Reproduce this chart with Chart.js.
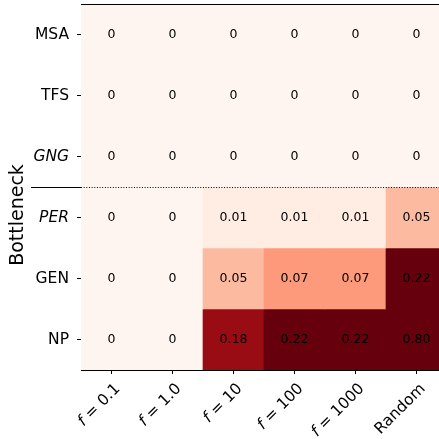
<!DOCTYPE html>
<html>
<head>
<meta charset="utf-8">
<script src="https://cdn.jsdelivr.net/npm/chart.js@4/dist/chart.umd.min.js"></script>
<style>
html,body{margin:0;padding:0;overflow:hidden;background:#fff;}
#wrap{width:447px;height:439px;}
</style>
</head>
<body>
<div id="wrap"><canvas id="c" width="447" height="439"></canvas></div>
<script>
// ---- data ----
const rowLabels = ['MSA', 'TFS', 'GNG', 'PER', 'GEN', 'NP'];
const italicRows = ['GNG', 'PER'];
const colLabels = ['f = 0.1', 'f = 1.0', 'f = 10', 'f = 100', 'f = 1000', 'Random'];
const valMSA = [0, 0, 0, 0, 0, 0];
const valTFS = [0, 0, 0, 0, 0, 0];
const valGNG = [0, 0, 0, 0, 0, 0];
const valPER = [0, 0, 0.01, 0.01, 0.01, 0.05];
const valGEN = [0, 0, 0.05, 0.07, 0.07, 0.22];
const valNP  = [0, 0, 0.18, 0.22, 0.22, 0.80];
const values = [valMSA, valTFS, valGNG, valPER, valGEN, valNP];
const vmax = 0.2;
const separatorAfterRow = 3;
const yTitle = 'Bottleneck';

// ---- Reds colormap ----
const redsStops = ['#fff5f0','#fee0d2','#fcbba1','#fc9272','#fb6a4a','#ef3b2c','#cb181d','#a50f15','#67000d'];
function hex2rgb(h){return [parseInt(h.substr(1,2),16),parseInt(h.substr(3,2),16),parseInt(h.substr(5,2),16)];}
function reds(t){
  t = Math.max(0, Math.min(1, t));
  const n = redsStops.length - 1;
  const p = t * n;
  const i = Math.min(Math.floor(p), n - 1);
  const f = p - i;
  const a = hex2rgb(redsStops[i]), b = hex2rgb(redsStops[i+1]);
  const c = a.map((v,k)=>Math.round(v + (b[k]-v)*f));
  return 'rgb(' + c.join(',') + ')';
}
const FONT = '"DejaVu Sans", sans-serif';

const datasets = values.map((rowVals, r) => ({
  label: rowLabels[r],
  data: rowVals.map(() => [r, r + 1]),
  backgroundColor: rowVals.map(v => reds(v / vmax)),
  borderWidth: 0,
  grouped: false,
  barPercentage: 1,
  categoryPercentage: 1
}));

const decor = {
  id: 'decor',
  afterDatasetsDraw(chart) {
    const ctx = chart.ctx;
    ctx.save();
    ctx.fillStyle = '#000';
    ctx.font = '12.5px ' + FONT;
    ctx.textAlign = 'center';
    ctx.textBaseline = 'middle';
    values.forEach((rowVals, r) => {
      const meta = chart.getDatasetMeta(r);
      meta.data.forEach((el, c) => {
        const p = el.getProps(['x', 'y', 'base'], true);
        const v = rowVals[c];
        ctx.fillText(v === 0 ? '0' : v.toFixed(2), p.x, (p.y + p.base) / 2 + 0.5);
      });
    });
    ctx.restore();
  },
  afterDraw(chart) {
    const ctx = chart.ctx;
    const a = chart.chartArea;
    const ys = chart.scales.y, xs = chart.scales.x;
    ctx.save();
    // top spine
    ctx.strokeStyle = '#000';
    ctx.lineWidth = 1;
    ctx.beginPath();
    ctx.moveTo(a.left, a.top + 0.5);
    ctx.lineTo(a.right, a.top + 0.5);
    ctx.stroke();
    // separator
    const sy = Math.round(ys.getPixelForValue(separatorAfterRow)) + 0.5;
    ctx.beginPath();
    ctx.moveTo(31, sy);
    ctx.lineTo(a.left, sy);
    ctx.stroke();
    ctx.setLineDash([1, 1.65]);
    ctx.beginPath();
    ctx.moveTo(a.left, sy);
    ctx.lineTo(a.right, sy);
    ctx.stroke();
    ctx.setLineDash([]);
    // y title
    ctx.fillStyle = '#000';
    ctx.font = '19px ' + FONT;
    ctx.textAlign = 'center';
    ctx.textBaseline = 'middle';
    ctx.translate(18.5, 215);
    ctx.rotate(-Math.PI / 2);
    ctx.fillText(yTitle, 0, 0);
    ctx.restore();
    // x labels
    ctx.save();
    ctx.fillStyle = '#000';
    ctx.textBaseline = 'top';
    colLabels.forEach((lab, i) => {
      const x = xs.getPixelForTick(i);
      ctx.save();
      ctx.translate(x + 1, a.bottom + 11);
      ctx.rotate(-Math.PI / 4);
      ctx.textAlign = 'left';
      if (lab.startsWith('f ')) {
        const rest = lab.slice(1);
        ctx.font = 'italic 15.5px ' + FONT;
        const wf = ctx.measureText('f').width;
        ctx.font = '15.5px ' + FONT;
        const wr = ctx.measureText(rest).width;
        const start = -(wf + wr);
        ctx.font = 'italic 15.5px ' + FONT;
        ctx.fillText('f', start, 0);
        ctx.font = '15.5px ' + FONT;
        ctx.fillText(rest, start + wf, 0);
      } else {
        ctx.font = '15.5px ' + FONT;
        const w = ctx.measureText(lab).width;
        ctx.fillText(lab, -w, 0);
      }
      ctx.restore();
    });
    ctx.restore();
  }
};

new Chart(document.getElementById('c'), {
  type: 'bar',
  data: { labels: colLabels, datasets },
  options: {
    responsive: false,
    animation: false,
    layout: { padding: { top: 4, right: 0, left: 0, bottom: 0 } },
    plugins: { legend: { display: false }, tooltip: { enabled: false } },
    scales: {
      x: {
        type: 'category',
        offset: true,
        grid: { display: true, offset: false, drawOnChartArea: false, drawTicks: true, tickLength: 4, color: '#000', tickColor: '#000' },
        border: { display: true, color: '#000', width: 1 },
        ticks: { display: false },
        afterFit(s) { s.height = 69; s.paddingLeft = 0; s.paddingRight = 0; }
      },
      y: {
        type: 'linear',
        min: 0, max: 6, reverse: true,
        afterBuildTicks(s) { s.ticks = rowLabels.map((_, i) => ({ value: i + 0.5 })); },
        grid: { display: true, drawOnChartArea: false, drawTicks: true, tickLength: 4, color: '#000', tickColor: '#000' },
        border: { display: true, color: '#000', width: 1 },
        ticks: {
          padding: 8,
          color: '#000',
          autoSkip: false,
          callback: (v) => rowLabels[Math.round(v - 0.5)],
          font: (ctx) => ({
            family: FONT, size: 15.5,
            style: (ctx.tick && italicRows.includes(rowLabels[Math.round(ctx.tick.value - 0.5)])) ? 'italic' : 'normal'
          })
        },
        afterFit(s) { s.width = 81; s.paddingTop = 0; s.paddingBottom = 0; }
      }
    }
  },
  plugins: [decor]
});
</script>
</body>
</html>
